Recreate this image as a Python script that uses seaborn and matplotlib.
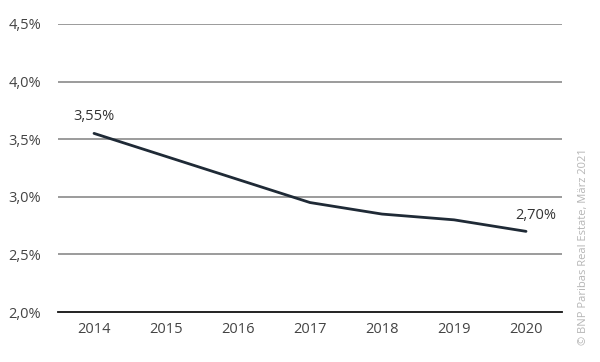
import matplotlib
matplotlib.use("Agg")
import matplotlib.pyplot as plt
import seaborn as sns
import pandas as pd

years = ["2014", "2015", "2016", "2017", "2018", "2019", "2020"]
values = [3.55, 3.35, 3.15, 2.95, 2.85, 2.80, 2.70]
yticks = [2.0, 2.5, 3.0, 3.5, 4.0, 4.5]
ytick_labels = ["2,0%", "2,5%", "3,0%", "3,5%", "4,0%", "4,5%"]
source = "© BNP Paribas Real Estate, März 2021"

sns.set_theme(style="white")
plt.rcParams['font.family'] = ['Open Sans', 'DejaVu Sans']

df = pd.DataFrame({"year": years, "value": values})

fig = plt.figure(figsize=(6.0, 3.62), dpi=100)
ax = fig.add_axes([0.0967, 0.138, 0.84, 0.796])

sns.lineplot(data=df, x="year", y="value", ax=ax, color="#1f2a36", linewidth=2.0, sort=False)

ax.set_xlim(-0.5, len(years) - 0.5)
ax.set_ylim(2.0, 4.5)
ax.set_yticks(yticks)
ax.set_yticklabels(ytick_labels)
for y in yticks[1:]:
    ax.axhline(y, color="#8a8a8a", linewidth=1.2, zorder=0)
for s in ["top", "right", "left"]:
    ax.spines[s].set_visible(False)
ax.spines["bottom"].set_color("#111111")
ax.spines["bottom"].set_linewidth(1.3)
ax.set_xlabel("")
ax.set_ylabel("")
ax.tick_params(axis="both", length=0, labelsize=10.5, labelcolor="#444444")
ax.tick_params(axis="y", pad=12)
ax.tick_params(axis="x", pad=7)

ax.annotate("3,55%", (0, values[0]), xytext=(0, 7), textcoords="offset points",
            ha="center", va="bottom", fontsize=10.5, color="#333333")
ax.annotate("2,70%", (len(years) - 1, values[-1]), xytext=(7, 6), textcoords="offset points",
            ha="center", va="bottom", fontsize=10.5, color="#333333")

fig.text(0.972, 0.32, source, rotation=90, ha="center", va="center",
         fontsize=8, color="#b5b5b5")

fig.savefig("out.png", dpi=100)
